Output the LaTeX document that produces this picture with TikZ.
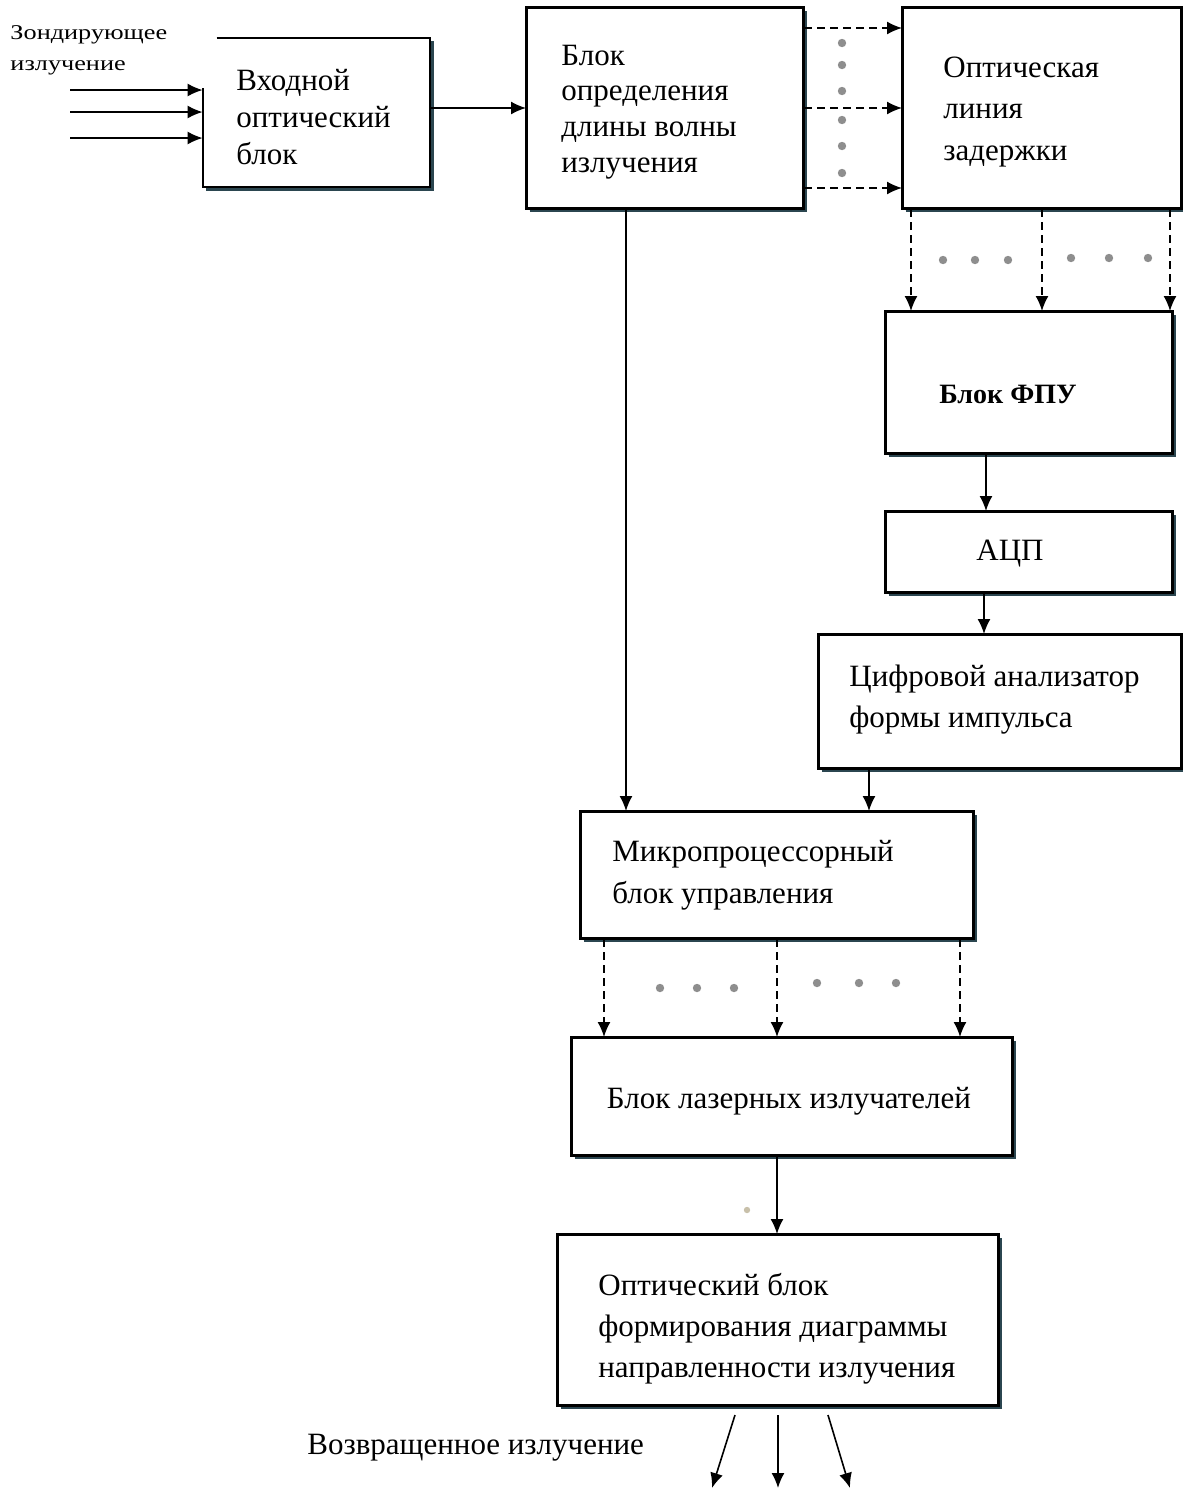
\documentclass[tikz,border=0pt]{standalone}
\usepackage{fontspec}
\setmainfont{Liberation Serif}
\usetikzlibrary{arrows.meta,calc}
\definecolor{shadc}{HTML}{2B4650}
\definecolor{dotc}{HTML}{8E8E8E}
\begin{document}
\begin{tikzpicture}[x=0.5pt,y=-0.5pt,
  box/.style={draw, line width=1pt, fill=white, inner sep=0pt},
  shad/.style={draw=shadc, line width=1.3pt},
  txt/.style={inner sep=0pt, align=left, anchor=west, font=\fontsize{15.5}{20.5}\selectfont},
  ctxt/.style={inner sep=0pt, align=center, font=\fontsize{15.5}{20.5}\selectfont},
  arr/.style={line width=0.8pt, -{Latex[length=7.5pt,width=6.5pt]}},
  darr/.style={arr, dash pattern=on 4pt off 2.5pt},
  gdot/.style={fill=dotc, draw=none, circle, minimum size=4.2pt, inner sep=0pt},
]
\useasboundingbox (0,0) rectangle (1183,1490);
% ---------- boxes ----------
\node[minimum width=113.5pt, minimum height=74.5pt, inner sep=0pt] (inp) at (316.5,112.5) {};
\node[box, minimum width=138pt, minimum height=100pt] (det) at (665,108) {};
\node[box, minimum width=139pt, minimum height=100pt] (del) at (1042,108) {};
\node[box, minimum width=143pt, minimum height=70.5pt] (fpu) at (1029,382.5) {};
\node[box, minimum width=143pt, minimum height=40pt] (adc) at (1029,552) {};
\node[box, minimum width=181pt, minimum height=66.5pt] (dig) at (1000,701.5) {};
\node[box, minimum width=196pt, minimum height=63pt] (mcu) at (777,875) {};
\node[box, minimum width=220pt, minimum height=58.5pt] (las) at (792,1096.5) {};
\node[box, minimum width=220pt, minimum height=85pt] (opt) at (778,1320) {};
% shadows
\foreach \n in {inp,det,del,fpu,adc,dig,mcu,las,opt}{
  \draw[shad] ([shift={(1.8pt,-0.95pt)}]\n.south west) -| ([shift={(0.95pt,-1.8pt)}]\n.north east);
}
% box outlines over shadows
\foreach \n in {det,del,fpu,adc,dig,mcu,las,opt}{
  \draw[line width=1pt] (\n.south west) rectangle (\n.north east);
}
\draw[line width=1pt] ([xshift=7pt]inp.north west) -- (inp.north east) -- (inp.south east) -- (inp.south west) -- ([yshift=-25pt]inp.north west);
% ---------- texts ----------
\node[txt, font=\fontsize{10.5}{15.5}\selectfont, xscale=1.25] (zond) at (10,50.5) {Зондирующее\\излучение};
\node[txt, font=\fontsize{15.5}{18.5}\selectfont] (inT) at (236,117.5) {Входной\\оптический\\блок};
\node[txt, font=\fontsize{15.5}{17.9}\selectfont] (detT) at (561,112) {Блок\\определения\\длины волны\\излучения};
\node[txt, font=\fontsize{15.5}{20.75}\selectfont] (delT) at (943,112) {Оптическая\\линия\\задержки};
\node[ctxt, font=\fontsize{14}{18}\selectfont\bfseries] (fpuT) at (1008,394) {Блок ФПУ};
\node[ctxt] (adcT) at (1010,554) {АЦП};
\node[txt] (digT) at (849,700) {Цифровой анализатор\\формы импульса};
\node[txt, font=\fontsize{15.5}{21}\selectfont] (mcuT) at (612,875) {Микропроцессорный\\блок управления};
\node[ctxt] (lasT) at (789,1101) {Блок лазерных излучателей};
\node[txt] (optT) at (598,1329) {Оптический блок\\формирования диаграммы\\направленности излучения};
\node[txt] (retT) at (307,1448) {Возвращенное излучение};
% ---------- connectors ----------
\coordinate (s1) at (70,90);
\coordinate (s2) at (70,112);
\coordinate (s3) at (70,138);
\foreach \s in {s1,s2,s3}{\draw[arr] (\s) -- (\s -| inp.west);}
\draw[arr] (inp.east |- det.west) -- (det.west);
\draw[darr] ([yshift=40pt]det.east) -- ([yshift=40pt]del.west);
\draw[darr] (det.east) -- (del.west);
\draw[darr] ([yshift=-40pt]det.east) -- ([yshift=-40pt]del.west);
\foreach \dx in {-65.5pt,0pt,64pt}{
  \draw[darr] ([xshift=\dx]del.south) -- ([xshift=\dx]del.south |- fpu.north);
}
\draw[arr] ([xshift=-21.5pt]fpu.south) -- ([xshift=-21.5pt]fpu.south |- adc.north);
\draw[arr] ([xshift=-22.5pt]adc.south) -- ([xshift=-22.5pt]adc.south |- dig.north);
\draw[arr] ([xshift=-65.5pt]dig.south) -- ([xshift=-65.5pt]dig.south |- mcu.north);
\draw[arr] ([xshift=-19.5pt]det.south) -- ([xshift=-19.5pt]det.south |- mcu.north);
\foreach \dx in {-86.5pt,0pt,91.5pt}{
  \draw[darr] ([xshift=\dx]mcu.south) -- ([xshift=\dx]mcu.south |- las.north);
}
\draw[arr] ([xshift=-7.5pt]las.south) -- ([xshift=-7.5pt]las.south |- opt.north);
\coordinate (o1) at (735,1415); \coordinate (e1) at (712,1488);
\coordinate (o2) at (778,1415); \coordinate (e2) at (778,1488);
\coordinate (o3) at (828,1415); \coordinate (e3) at (850,1488);
\draw[arr] (o1) -- (e1);
\draw[arr] (o2) -- (e2);
\draw[arr] (o3) -- (e3);
% ---------- gray dots ----------
\foreach \y [count=\i] in {43,65,91,120,146,173}{\node[gdot] (vd\i) at (842,\y) {};}
\foreach \x [count=\i] in {943,975,1008}{\node[gdot] (ha\i) at (\x,260) {};}
\foreach \x [count=\i] in {1071,1109,1148}{\node[gdot] (hb\i) at (\x,258) {};}
\foreach \x [count=\i] in {660,697,734}{\node[gdot] (hc\i) at (\x,988) {};}
\foreach \x [count=\i] in {817,859,896}{\node[gdot] (hd\i) at (\x,983) {};}
\node[gdot, fill={rgb,255:red,200;green,192;blue,170}, minimum size=3.2pt] (sd) at (747,1210) {};
\end{tikzpicture}
\end{document}
